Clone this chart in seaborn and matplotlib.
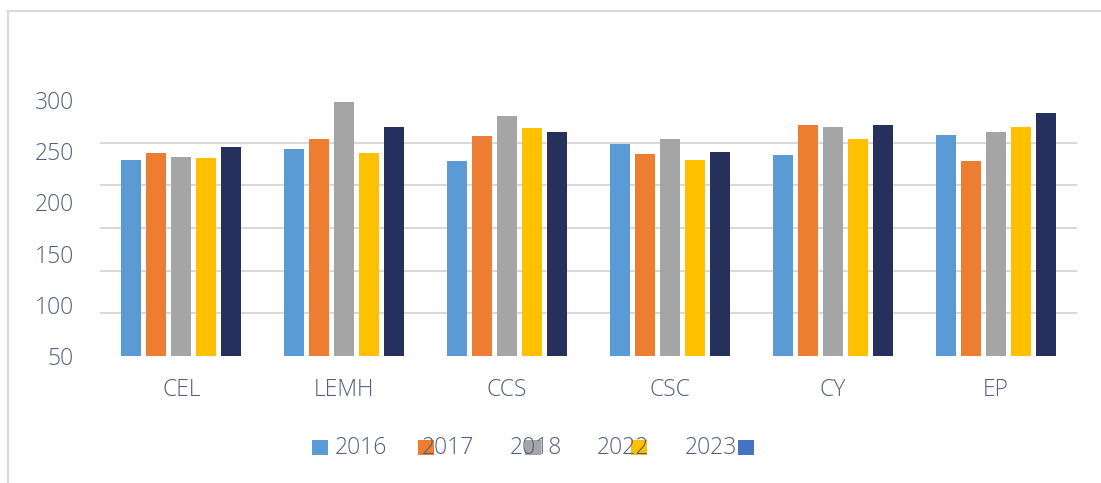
import numpy as np
import pandas as pd
import matplotlib
matplotlib.use("Agg")
import matplotlib.pyplot as plt
from matplotlib.patches import Rectangle
from matplotlib.lines import Line2D
from matplotlib.ticker import FixedLocator
import seaborn as sns

categories = ["CEL", "LEMH", "CCS", "CSC", "CY", "EP"]
years = ["2016", "2017", "2018", "2022", "2023"]
v2016 = [241, 252, 240, 257, 246, 266]
v2017 = [248, 262, 265, 247, 276, 240]
v2018 = [244, 298, 284, 262, 274, 269]
v2022 = [243, 248, 273, 241, 262, 274]
v2023 = [254, 274, 269, 249, 276, 287]
y_ticks = [50, 100, 150, 200, 250, 300]

bar_colors = ["#5B9BD5", "#ED7D31", "#A5A5A5", "#FFC000", "#25305C"]
legend_colors = ["#5B9BD5", "#ED7D31", "#A5A5A5", "#FFC000", "#4472C4"]
text_color = "#555D80"
grid_color = "#D9D9D9"

series = [v2016, v2017, v2018, v2022, v2023]
rows = []
for yr, vals in zip(years, series):
    for c, v in zip(categories, vals):
        rows.append({"cat": c, "year": yr, "value": v})
df = pd.DataFrame(rows)

sns.set_theme(style="white")
plt.rcParams["font.family"] = ["Open Sans", "DejaVu Sans"]

W, H = 1101, 483
FS = 16.5
fig = plt.figure(figsize=(W / 100, H / 100), dpi=100)
ax = fig.add_axes([100 / W, 1 - 356 / H, 977 / W, 256 / H])

sns.barplot(data=df, x="cat", y="value", hue="year", order=categories,
            hue_order=years, palette=bar_colors, width=0.768, gap=0.2,
            saturation=1, legend=False, ax=ax, linewidth=0)

ax.set_ylim(50, 300)
ax.set_xlim(-0.5, len(categories) - 0.5)
ax.yaxis.set_major_locator(FixedLocator(y_ticks))
ax.yaxis.set_minor_locator(FixedLocator(np.linspace(50, 300, 7)))
ax.grid(False)
ax.grid(which="minor", axis="y", color=grid_color, linewidth=1.5)
ax.set_axisbelow(True)
for s in ax.spines.values():
    s.set_visible(False)
ax.set_xlabel("")
ax.set_ylabel("")
ax.tick_params(axis="both", which="both", length=0)
ax.tick_params(axis="y", pad=19, labelsize=FS, labelcolor=text_color)
ax.tick_params(axis="x", pad=16, labelsize=FS, labelcolor=text_color)
for lbl in ax.get_xticklabels() + ax.get_yticklabels():
    lbl.set_fontweight("light")

# legend (as drawn in the reference)
sq_x = [312, 418, 525, 631, 738]
tx_x = [335, 422, 510, 597, 685]
for i, yr in enumerate(years):
    fig.text(tx_x[i] / W, 1 - 448 / H, yr, ha="left", va="center",
             fontsize=FS, color=text_color, fontweight="light", zorder=10)
    fig.patches.append(Rectangle((sq_x[i] / W, 1 - 455 / H), 16 / W, 15 / H,
                                 transform=fig.transFigure, facecolor=legend_colors[i],
                                 edgecolor="none", zorder=1))

# frame
fig.lines.append(Line2D([7 / W, 1], [1 - 11 / H, 1 - 11 / H], transform=fig.transFigure,
                        color=grid_color, linewidth=1.5))
fig.lines.append(Line2D([8 / W, 8 / W], [1 - 11 / H, 0], transform=fig.transFigure,
                        color=grid_color, linewidth=1.5))

fig.savefig("out.png", dpi=100)
